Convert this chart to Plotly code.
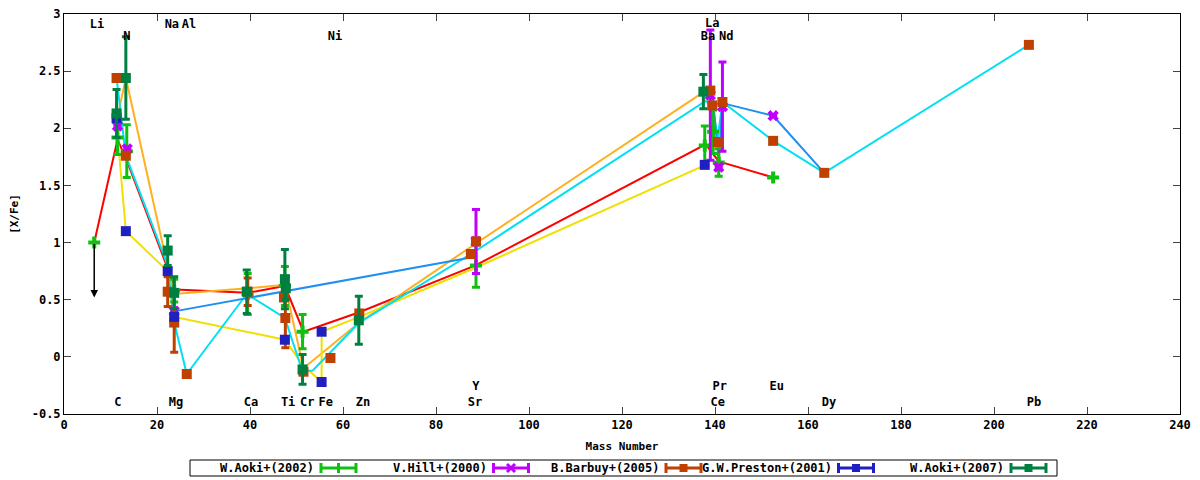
import plotly.graph_objects as go

# ---- measured abundances (mass number, [X/Fe], error) ----
aoki02_x = [11.5, 13.5, 23.7, 39.5, 47.5, 51.3, 88.6, 137.8, 139.6, 140.8, 152.5]
aoki02_y = [1.92, 1.80, 0.58, 0.55, 0.62, 0.22, 0.80, 1.85, 1.97, 1.70, 1.57]
aoki02_e = [0.15, 0.23, 0.10, 0.18, 0.17, 0.15, 0.19, 0.17, 0.19, 0.12, 0.0]

hill_x = [11.5, 13.6, 23.7, 88.6, 139.0, 140.8, 141.6, 152.5]
hill_y = [2.02, 1.82, 0.40, 1.01, 2.29, 1.66, 2.19, 2.11]
hill_e = [0.0, 0.0, 0.0, 0.28, 0.57, 0.0, 0.39, 0.0]

barbuy_x = [11.3, 13.3, 22.3, 23.7, 26.4, 39.5, 47.3, 47.6, 51.5, 57.3, 63.5,
            87.5, 88.6, 139.0, 139.4, 140.6, 141.6, 152.5, 163.5, 207.5]
barbuy_y = [2.44, 1.76, 0.57, 0.30, -0.15, 0.57, 0.52, 0.34, -0.13, -0.01, 0.38,
            0.90, 1.01, 2.33, 2.20, 1.88, 2.23, 1.89, 1.61, 2.73]
barbuy_e = [0.0, 0.0, 0.13, 0.26, 0.0, 0.12, 0.0, 0.26, 0.0, 0.0, 0.0,
            0.0, 0.0, 0.0, 0.0, 0.0, 0.0, 0.0, 0.0, 0.0]

preston_x = [11.3, 13.3, 22.3, 23.7, 47.5, 55.4, 55.4, 137.8]
preston_y = [2.09, 1.10, 0.75, 0.35, 0.15, 0.22, -0.22, 1.68]
preston_e = [0.0, 0.0, 0.0, 0.0, 0.0, 0.0, 0.0, 0.0]

aoki07_x = [11.3, 13.3, 22.3, 23.7, 39.3, 47.5, 47.7, 51.3, 63.4, 137.5]
aoki07_y = [2.13, 2.44, 0.93, 0.56, 0.57, 0.68, 0.60, -0.11, 0.32, 2.32]
aoki07_e = [0.21, 0.36, 0.13, 0.14, 0.19, 0.26, 0.10, 0.13, 0.21, 0.15]

# upper limit for Li (Aoki 2002)
li_x = [6.5]
li_y = [1.0]
li_arrow_to = [0.52]

# ---- connecting lines ----
red_x = [6.5, 11.5, 13.5, 24.0, 39.5, 47.5, 51.5, 63.5, 88.5, 138.0, 140.8, 152.5]
red_y = [1.0, 1.90, 1.72, 0.59, 0.56, 0.62, 0.22, 0.39, 0.80, 1.86, 1.71, 1.57]

orange_x = [11.5, 13.3, 22.5, 23.7, 39.5, 47.5, 51.5, 63.5, 88.5, 138.0]
orange_y = [2.10, 2.44, 0.75, 0.55, 0.60, 0.63, -0.10, 0.30, 0.99, 2.33]

yellow_x = [11.5, 13.3, 22.3, 23.7, 47.5, 51.3, 55.4, 55.4, 63.5, 88.5, 138.0]
yellow_y = [1.95, 1.10, 0.75, 0.35, 0.15, -0.07, -0.22, 0.22, 0.35, 0.78, 1.68]

cyan_x = [11.3, 13.3, 22.3, 23.7, 26.4, 39.3, 47.5, 51.3, 53.5, 63.5, 87.5,
          138.0, 139.4, 140.6, 141.6, 152.5, 163.5, 207.5]
cyan_y = [2.44, 1.76, 0.80, 0.30, -0.15, 0.55, 0.34, -0.13, -0.12, 0.30, 0.90,
          2.24, 2.20, 1.92, 2.23, 1.89, 1.61, 2.73]

blue_x = [24.0, 87.5, None, 139.6, 140.8, 141.6, 152.5, 163.5]
blue_y = [0.40, 0.87, None, 2.25, 1.70, 2.22, 2.11, 1.61]

# ---- element labels ----
el_names = ["Li", "N", "Na", "Al", "Ni", "La", "Ba", "Nd",
            "C", "Mg", "Ca", "Ti", "Cr", "Fe", "Zn", "Sr", "Y",
            "Ce", "Pr", "Eu", "Dy", "Pb"]
el_x = [7.1, 13.5, 23.2, 26.9, 58.3, 139.4, 138.5, 142.4,
        11.6, 24.1, 40.2, 48.2, 52.3, 56.3, 64.3, 88.4, 88.6,
        140.6, 141.0, 153.3, 164.5, 208.6]
el_y = [2.90, 2.80, 2.90, 2.90, 2.80, 2.91, 2.80, 2.80,
        -0.40, -0.40, -0.40, -0.40, -0.40, -0.40, -0.40, -0.40, -0.26,
        -0.40, -0.26, -0.26, -0.40, -0.40]

FONT = "DejaVu Sans Mono"
OFF = 8                      # page body margin of the html
W, H = 1200 - OFF, 480 - OFF
ML, MR, MT, MB = 64 - OFF, 20, 14 - OFF, 66
PW, PH = W - ML - MR, H - MT - MB


def px2x(px):
    return (px - OFF - ML) / PW


def px2y(py):
    return (OFF + MT + PH - py) / PH


fig = go.Figure()

for lx, ly, col in [(red_x, red_y, "#ff0000"),
                    (orange_x, orange_y, "#ffb020"),
                    (yellow_x, yellow_y, "#f0e000"),
                    (cyan_x, cyan_y, "#00e0f0"),
                    (blue_x, blue_y, "#2090f0")]:
    fig.add_trace(go.Scatter(x=lx, y=ly, mode='lines', line=dict(color=col, width=2),
                             connectgaps=False, showlegend=False, hoverinfo='skip'))

series = [
    ("W.Aoki+(2002)", aoki02_x, aoki02_y, aoki02_e, "#10c010", "cross"),
    ("V.Hill+(2000)", hill_x, hill_y, hill_e, "#c000ff", "x"),
    ("B.Barbuy+(2005)", barbuy_x, barbuy_y, barbuy_e, "#c04000", "square"),
    ("G.W.Preston+(2001)", preston_x, preston_y, preston_e, "#2020c0", "square"),
    ("W.Aoki+(2007)", aoki07_x, aoki07_y, aoki07_e, "#008040", "square"),
]

for name, sx, sy, se, col, sym in series:
    fig.add_trace(go.Scatter(
        x=sx, y=sy, mode='markers', name=name, showlegend=False,
        marker=dict(symbol=sym, size=10, color=col, line=dict(width=0)),
        error_y=dict(type='data', array=se, visible=True, color=col, thickness=3, width=4),
    ))

# Li upper limit (Aoki 2002)
fig.add_trace(go.Scatter(x=li_x, y=li_y, mode='markers', showlegend=False,
                         marker=dict(symbol='cross', size=10, color="#10c010")))
for xx, yy, yt in zip(li_x, li_y, li_arrow_to):
    fig.add_annotation(x=xx, y=yt, ax=xx, ay=yy, xref='x', yref='y', axref='x', ayref='y',
                       showarrow=True, arrowhead=2, arrowsize=1, arrowwidth=1.5,
                       arrowcolor='black', text='')

fig.add_trace(go.Scatter(x=el_x, y=el_y, mode='text', text=el_names, showlegend=False,
                         textfont=dict(family=FONT, size=12, color='black', weight='bold'),
                         hoverinfo='skip'))

# ---- gnuplot-like key box below the plot ----
shapes = [dict(type='rect', xref='paper', yref='paper',
               x0=px2x(190), x1=px2x(1057), y0=px2y(476), y1=px2y(460),
               line=dict(color='black', width=1), fillcolor='white')]
ky = 468
for i, (name, sx, sy, se, col, sym) in enumerate(series):
    tend = 316 + 172.5 * i
    fig.add_annotation(x=px2x(tend), y=px2y(ky), xref='paper', yref='paper',
                       text=name, showarrow=False, xanchor='right', yanchor='middle',
                       font=dict(family=FONT, size=12, color='black', weight='bold'))
    s0, s1 = tend + 5, tend + 40
    ln = dict(color=col, width=3)
    shapes.append(dict(type='line', xref='paper', yref='paper', x0=px2x(s0), x1=px2x(s1),
                       y0=px2y(ky), y1=px2y(ky), line=ln))
    for sx0 in (s0, s1):
        shapes.append(dict(type='line', xref='paper', yref='paper', x0=px2x(sx0), x1=px2x(sx0),
                           y0=px2y(ky - 5), y1=px2y(ky + 5), line=ln))
    cx = (s0 + s1) / 2
    if sym == 'square':
        shapes.append(dict(type='rect', xref='paper', yref='paper',
                           x0=px2x(cx - 4), x1=px2x(cx + 4), y0=px2y(ky + 4), y1=px2y(ky - 4),
                           line=dict(width=0), fillcolor=col))
    elif sym == 'cross':
        shapes.append(dict(type='line', xref='paper', yref='paper', x0=px2x(cx), x1=px2x(cx),
                           y0=px2y(ky - 5), y1=px2y(ky + 5), line=ln))
    else:
        for d in (-1, 1):
            shapes.append(dict(type='line', xref='paper', yref='paper',
                               x0=px2x(cx - 4), x1=px2x(cx + 4),
                               y0=px2y(ky - 4 * d), y1=px2y(ky + 4 * d), line=ln))

fig.update_layout(
    width=W, height=H,
    margin=dict(l=ML, r=MR, t=MT, b=MB),
    paper_bgcolor='white', plot_bgcolor='white',
    font=dict(family=FONT, size=12, color='black', weight='bold'),
    showlegend=False,
    shapes=shapes,
    xaxis=dict(range=[0, 240], dtick=20, tick0=0, ticks='inside', ticklen=7,
               showline=True, linecolor='black', linewidth=1, mirror='ticks',
               showgrid=False, zeroline=False, automargin=False,
               ticklabeloverflow='allow',
               tickfont=dict(family=FONT, size=12, weight='bold'),
               title=dict(text='Mass Number', standoff=10,
                          font=dict(family=FONT, size=11, weight='bold'))),
    yaxis=dict(range=[-0.5, 3], tickvals=[-0.5, 0, 0.5, 1, 1.5, 2, 2.5, 3],
               ticktext=['-0.5', '0', '0.5', '1', '1.5', '2', '2.5', '3'],
               ticks='inside', ticklen=7,
               showline=True, linecolor='black', linewidth=1, mirror='ticks',
               showgrid=False, zeroline=False, automargin=False,
               ticklabeloverflow='allow',
               tickfont=dict(family=FONT, size=12, weight='bold'),
               title=dict(text='[X/Fe]', standoff=10,
                          font=dict(family=FONT, size=11, weight='bold'))),
)

fig.write_html("out.html")
